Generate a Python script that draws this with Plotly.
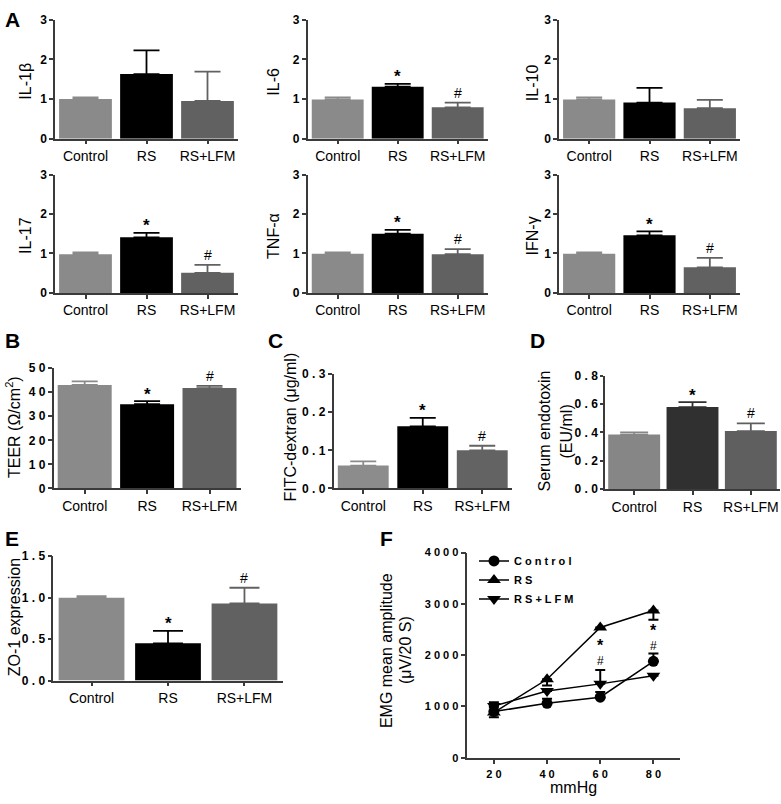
import plotly.graph_objects as go

W, H = 781, 804
FONT = "Liberation Sans, Arial, Helvetica, sans-serif"
AX = "#3a3a3a"

# ---------------- data ----------------
categories = ["Control", "RS", "RS+LFM"]

il1b = [1.00, 1.63, 0.95]
il1b_err = [0.04, 0.60, 0.74]
il6 = [0.99, 1.31, 0.79]
il6_err = [0.05, 0.07, 0.12]
il10 = [0.99, 0.91, 0.77]
il10_err = [0.05, 0.37, 0.21]
il17 = [0.98, 1.41, 0.51]
il17_err = [0.05, 0.11, 0.20]
tnfa = [0.99, 1.50, 0.98]
tnfa_err = [0.04, 0.10, 0.13]
ifng = [0.99, 1.46, 0.65]
ifng_err = [0.04, 0.10, 0.24]

teer = [43.0, 35.0, 41.7]
teer_err = [1.5, 1.3, 0.9]
fitc = [0.060, 0.163, 0.100]
fitc_err = [0.011, 0.022, 0.012]
endo = [0.385, 0.580, 0.410]
endo_err = [0.015, 0.035, 0.055]
zo1 = [1.00, 0.45, 0.93]
zo1_err = [0.02, 0.15, 0.19]

cyto_ticks = ["0", "1", "2", "3"]
teer_ticks = ["0", "1 0", "2 0", "3 0", "4 0", "5 0"]
fitc_ticks = ["0 . 0", "0 . 1", "0 . 2", "0 . 3"]
endo_ticks = ["0 . 0", "0 . 2", "0 . 4", "0 . 6", "0 . 8"]
zo1_ticks = ["0 . 0", "0 . 5", "1 . 0", "1 . 5"]

pressure = [20, 40, 60, 80]
pressure_ticks = ["2 0", "4 0", "6 0", "8 0"]
emg_ticks = ["0", "1 0 0 0", "2 0 0 0", "3 0 0 0", "4 0 0 0"]
emg_control = [900, 1060, 1180, 1880]
emg_control_err = [80, 90, 100, 150]
emg_rs = [880, 1530, 2540, 2870]
emg_rs_err = [90, 120, 0, 180]
emg_lfm = [1010, 1300, 1440, 1600]
emg_lfm_err = [70, 0, 270, 0]
legend_names = ["C o n t r o l", "R S", "R S + L F M"]

sig_none = ["", "", ""]
sig_both = ["", "*", "#"]
emg_marks = [(60, "*"), (60, "#"), (80, "*"), (80, "#")]
emg_mark_y = [2180, 1880, 2475, 2175]

# ---------------- helpers ----------------
def px(x):
    return x / W


def py(y):
    return 1 - y / H


fig = go.Figure()
layout = dict(
    width=W, height=H, margin=dict(l=0, r=0, t=0, b=0),
    paper_bgcolor="white", plot_bgcolor="white", barmode="overlay",
    showlegend=True, font=dict(family=FONT, color="black"),
)
annotations = []


def text_note(x, y, t, size=16, angle=0, weight="normal"):
    annotations.append(dict(x=px(x), y=py(y), xref="paper", yref="paper", text=t,
                            textangle=angle, showarrow=False,
                            xanchor="center", yanchor="middle",
                            font=dict(family=FONT, size=size, color="black", weight=weight)))


def axis_common():
    return dict(showline=True, linecolor=AX, linewidth=1.5, ticks="outside",
                tickcolor=AX, tickwidth=1.5, ticklen=4, showgrid=False,
                zeroline=False, fixedrange=True)


def bar_panel(n, vals, errs, colors, xd, yd, ymax, tick_step, ticktext, tsize,
              cap, width, marks, titles, ticklen=4):
    xa = "x" if n == 1 else f"x{n}"
    ya = "y" if n == 1 else f"y{n}"
    for i, c in enumerate(categories):
        fig.add_trace(go.Bar(
            x=[c], y=[vals[i]], xaxis=xa, yaxis=ya, width=width,
            marker=dict(color=colors[i], line=dict(width=0)), showlegend=False,
            error_y=dict(type="data", symmetric=False, array=[errs[i]],
                         arrayminus=[0], color=colors[i], thickness=1.8, width=cap),
        ))
        if marks[i]:
            star = marks[i] == "*"
            annotations.append(dict(
                x=c, y=vals[i] + errs[i], xref=xa, yref=ya, text=marks[i],
                showarrow=False, xanchor="center", yanchor="middle",
                yshift=7 if star else 10,
                font=dict(family=FONT, size=17 if star else 14,
                          weight="bold" if star else "normal", color="black")))
    xk = "xaxis" if n == 1 else f"xaxis{n}"
    yk = "yaxis" if n == 1 else f"yaxis{n}"
    xcfg = axis_common()
    xcfg.update(domain=[px(xd[0]), px(xd[1])], anchor=ya, type="category",
                categoryorder="array", categoryarray=categories, range=[-0.5, 2.5],
                tickfont=dict(family=FONT, size=14, color="black"))
    ycfg = axis_common()
    tv = [i * tick_step for i in range(len(ticktext))]
    ycfg.update(domain=[py(yd[1]), py(yd[0])], anchor=xa, range=[0, ymax],
                tickvals=tv, ticktext=ticktext, ticklen=ticklen,
                tickfont=dict(family=FONT, size=tsize, color="black", weight="bold"))
    layout[xk] = xcfg
    layout[yk] = ycfg
    for (tx, ty, t) in titles:
        text_note(tx, ty, t, 16, -90)


colA = ["#8a8a8a", "#000000", "#616161"]
colD = ["#868686", "#303030", "#5f5f5f"]

# Panel A
row1 = (13, 134)
row2 = (170.5, 291)
c1, c2, c3 = (55, 238), (307.7, 487.7), (559, 740)
bar_panel(1, il1b, il1b_err, colA, c1, row1, 3, 1, cyto_ticks, 12, 13, 0.865, sig_none, [(26, 76, "IL-1β")])
bar_panel(2, il6, il6_err, colA, c2, row1, 3, 1, cyto_ticks, 12, 13, 0.865, sig_both, [(274, 76, "IL-6")])
bar_panel(3, il10, il10_err, colA, c3, row1, 3, 1, cyto_ticks, 12, 13, 0.865, sig_none, [(532.5, 77, "IL-10")])
bar_panel(4, il17, il17_err, colA, c1, row2, 3, 1, cyto_ticks, 12, 13, 0.865, sig_both, [(26, 233, "IL-17")])
bar_panel(5, tnfa, tnfa_err, colA, c2, row2, 3, 1, cyto_ticks, 12, 13, 0.865, sig_both, [(274, 233, "TNF-α")])
bar_panel(6, ifng, ifng_err, colA, c3, row2, 3, 1, cyto_ticks, 12, 13, 0.865, sig_both, [(532.5, 233, "IFN-γ")])

# Panel B, C, D
bar_panel(7, teer, teer_err, colA, (53.5, 240.7), (367.5, 490), 50, 10, teer_ticks, 12, 13, 0.865, sig_both,
          [(12.5, 428, "TEER (Ω/cm<sup>2</sup>)")])
bar_panel(8, fitc, fitc_err, ["#8c8c8c", "#000000", "#636363"], (333.5, 512), (373.6, 490), 0.3, 0.1, fitc_ticks, 12, 13,
          0.855, sig_both, [(291, 428, "FITC-dextran (μg/ml)")])
bar_panel(9, endo, endo_err, colD, (605, 780), (375.5, 490.5), 0.8, 0.2, endo_ticks, 12, 14, 0.89, sig_both,
          [(544, 432, "Serum endotoxin"), (566, 432, "(EU/ml)")], ticklen=3)

# Panel E
bar_panel(10, zo1, zo1_err, colA, (53.3, 282.7), (559, 685.5), 1.5, 0.5, zo1_ticks, 12, 15, 0.86, sig_both,
          [(14, 621, "ZO-1 expression")])

# Panel F
fx = "x11"
fy = "y11"
series = [
    (emg_control, emg_control_err, [0] * 4, "circle", 11),
    (emg_rs, [0] * 4, emg_rs_err, "triangle-up", 12),
    (emg_lfm, emg_lfm_err, [0] * 4, "triangle-down", 12),
]
for (vals, up, down, sym, ms), name in zip(series, legend_names):
    fig.add_trace(go.Scatter(
        x=pressure, y=vals, xaxis=fx, yaxis=fy, mode="lines+markers", name=name,
        line=dict(color="black", width=1.5),
        marker=dict(symbol=sym, size=ms, color="black"),
        error_y=dict(type="data", symmetric=False, array=up, arrayminus=down,
                     color="black", thickness=2, width=5),
        cliponaxis=False,
    ))
xcfg = axis_common()
xcfg.update(domain=[px(467.3), px(680)], anchor=fy, range=[10, 90],
            tickvals=pressure, ticktext=pressure_ticks, ticklen=5,
            tickfont=dict(family=FONT, size=11, color="black", weight="bold"))
ycfg = axis_common()
ycfg.update(domain=[py(764), py(555.3)], anchor=fx, range=[0, 4000],
            tickvals=[0, 1000, 2000, 3000, 4000], ticktext=emg_ticks, ticklen=5,
            tickfont=dict(family=FONT, size=11, color="black", weight="bold"))
layout["xaxis11"] = xcfg
layout["yaxis11"] = ycfg
for (xv, m), yv in zip(emg_marks, emg_mark_y):
    star = m == "*"
    annotations.append(dict(x=xv, y=yv, xref=fx, yref=fy, text=m, showarrow=False,
                            xanchor="center", yanchor="middle",
                            font=dict(family=FONT, size=16 if star else 12,
                                      weight="bold" if star else "normal", color="black")))
text_note(386.5, 655, "EMG mean amplitude", 16, -90)
text_note(405.5, 655, "(μV/20 S)", 16, -90)
text_note(573.5, 794, "mmHg", 16)

layout["legend"] = dict(x=px(474), y=py(549), xanchor="left", yanchor="top",
                        bgcolor="rgba(0,0,0,0)", itemwidth=30, tracegroupgap=0,
                        font=dict(family=FONT, size=11, color="black", weight="bold"))

# panel letters
for (lx, ly, t) in [(12, 13, "A"), (12, 339, "B"), (275, 339, "C"), (537, 339, "D"),
                    (12, 541, "E"), (386, 541, "F")]:
    text_note(lx, ly, t, 21, 0, "bold")

layout["annotations"] = annotations
fig.update_layout(**layout)
fig.write_html("out.html", config={"displayModeBar": False},
               post_script="document.body.style.margin='0px';document.body.style.overflow='hidden';")
